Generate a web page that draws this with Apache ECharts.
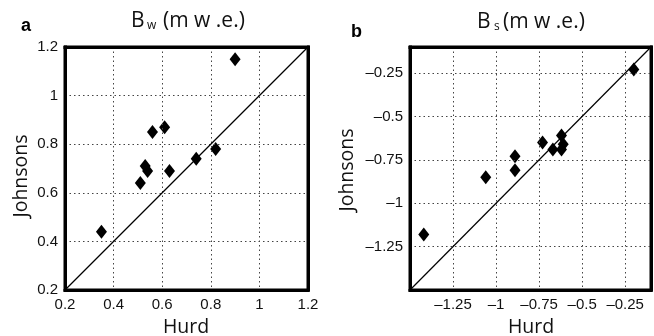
<!DOCTYPE html>
<html>
<head>
<meta charset="utf-8">
<script src="https://cdn.jsdelivr.net/npm/echarts@6/dist/echarts.min.js"></script>
<style>
html,body{margin:0;padding:0;background:#fff;}
#chart{width:654px;height:336px;}
</style>
</head>
<body>
<div id="chart"></div>
<script>
// Panel a: B_w (m w.e.)
const hurdW = [0.35, 0.51, 0.53, 0.54, 0.56, 0.61, 0.63, 0.74, 0.82, 0.90];
const johnsonsW = [0.44, 0.64, 0.71, 0.69, 0.85, 0.87, 0.69, 0.74, 0.78, 1.15];
// Panel b: B_s (m w.e.)
const hurdS = [-1.42, -1.06, -0.89, -0.89, -0.73, -0.67, -0.62, -0.62, -0.61, -0.20];
const johnsonsS = [-1.18, -0.85, -0.81, -0.73, -0.65, -0.69, -0.61, -0.69, -0.66, -0.23];

// Axis ranges and tick labels
const rangeA = [0.2, 1.2];
const ticksA = [0.2, 0.4, 0.6, 0.8, 1, 1.2];
const rangeB = [-1.5, -0.1];
const ticksB = [-1.25, -1, -0.75, -0.5, -0.25];
// 1:1 reference lines
const oneToOneA = [[0.2, 0.2], [1.2, 1.2]];
const oneToOneB = [[-1.5, -1.5], [-0.1, -0.1]];

const chart = echarts.init(document.getElementById('chart'));

function fmt(list) {
  return function (v) {
    for (const t of list) {
      if (Math.abs(t - v) < 1e-6) return String(t).replace('-', '\u2013');
    }
    return '';
  };
}

const tickFont = { fontFamily: 'Liberation Sans', fontSize: 15, color: '#111' };
const gridLine = { show: true, lineStyle: { color: '#444', width: 1, type: [1.5, 3] } };
function frameLine() { return { show: true, onZero: false, lineStyle: { color: '#000', width: 3, cap: 'square' } }; }

function mainAxis(gridIndex, range, interval, ticks, position) {
  return {
    type: 'value', gridIndex: gridIndex, min: range[0], max: range[1], interval: interval,
    position: position,
    axisLine: frameLine(),
    axisTick: { show: false },
    axisLabel: Object.assign({ formatter: fmt(ticks), margin: 7, showMinLabel: true, showMaxLabel: true }, tickFont),
    splitLine: gridLine,
    z: 3
  };
}
function frameAxis(gridIndex, range, interval, position) {
  return {
    type: 'value', gridIndex: gridIndex, min: range[0], max: range[1], interval: interval,
    position: position,
    axisLine: frameLine(),
    axisTick: { show: false },
    axisLabel: { show: false },
    splitLine: { show: false },
    z: 3
  };
}

const nameStyle = { fontFamily: 'Open Sans', fontSize: 19.5, fill: '#111', align: 'center', verticalAlign: 'middle' };
const titleMain = { fontFamily: 'Open Sans', fontSize: 21, fill: '#111', align: 'left', verticalAlign: 'middle' };
const titleSub = { fontFamily: 'Open Sans', fontSize: 12, fill: '#111', align: 'left', verticalAlign: 'middle' };

const option = {
  animation: false,
  backgroundColor: '#fff',
  grid: [
    { left: 65, top: 47, width: 243, height: 243, show: true, borderColor: '#000', borderWidth: 3 },
    { left: 410, top: 47, width: 243, height: 243, show: true, borderColor: '#000', borderWidth: 3 }
  ],
  xAxis: [
    mainAxis(0, rangeA, 0.2, ticksA, 'bottom'),
    mainAxis(1, rangeB, 0.25, ticksB, 'bottom'),
    frameAxis(0, rangeA, 0.2, 'top'),
    frameAxis(1, rangeB, 0.25, 'top')
  ],
  yAxis: [
    mainAxis(0, rangeA, 0.2, ticksA, 'left'),
    mainAxis(1, rangeB, 0.25, ticksB, 'left'),
    frameAxis(0, rangeA, 0.2, 'right'),
    frameAxis(1, rangeB, 0.25, 'right')
  ],
  graphic: [
    { type: 'text', style: { x: 21, y: 26.5, text: 'a', fontFamily: 'Liberation Sans', fontWeight: 'bold', fontSize: 18, fill: '#000', verticalAlign: 'middle' } },
    { type: 'text', style: { x: 351, y: 32.5, text: 'b', fontFamily: 'Liberation Sans', fontWeight: 'bold', fontSize: 18, fill: '#000', verticalAlign: 'middle' } },
    // titles
    { type: 'text', style: Object.assign({ x: 131, y: 21, text: 'B' }, titleMain) },
    { type: 'text', style: Object.assign({ x: 147, y: 26, text: 'w' }, titleSub) },
    { type: 'text', style: Object.assign({ x: 163, y: 21, text: '(m w .e.)' }, titleMain) },
    { type: 'text', style: Object.assign({ x: 477, y: 22, text: 'B' }, titleMain) },
    { type: 'text', style: Object.assign({ x: 494, y: 27, text: 's' }, titleSub) },
    { type: 'text', style: Object.assign({ x: 503, y: 22, text: '(m w .e.)' }, titleMain) },
    // axis names
    { type: 'text', style: Object.assign({ x: 186, y: 327, text: 'Hurd' }, nameStyle) },
    { type: 'text', style: Object.assign({ x: 531, y: 327, text: 'Hurd' }, nameStyle) },
    { type: 'text', x: 21, y: 176, rotation: Math.PI / 2, style: Object.assign({ x: 0, y: 0, text: 'Johnsons' }, nameStyle) },
    { type: 'text', x: 347, y: 170, rotation: Math.PI / 2, style: Object.assign({ x: 0, y: 0, text: 'Johnsons' }, nameStyle) }
  ],
  series: [
    { type: 'line', xAxisIndex: 0, yAxisIndex: 0, data: oneToOneA, symbol: 'none', lineStyle: { color: '#000', width: 1.2 }, silent: true },
    { type: 'scatter', xAxisIndex: 0, yAxisIndex: 0, data: hurdW.map((x, i) => [x, johnsonsW[i]]), symbol: 'diamond', symbolSize: [11, 14], itemStyle: { color: '#000', opacity: 1 } },
    { type: 'line', xAxisIndex: 1, yAxisIndex: 1, data: oneToOneB, symbol: 'none', lineStyle: { color: '#000', width: 1.2 }, silent: true },
    { type: 'scatter', xAxisIndex: 1, yAxisIndex: 1, data: hurdS.map((x, i) => [x, johnsonsS[i]]), symbol: 'diamond', symbolSize: [11, 14], itemStyle: { color: '#000', opacity: 1 } }
  ]
};
chart.setOption(option);
</script>
</body>
</html>
